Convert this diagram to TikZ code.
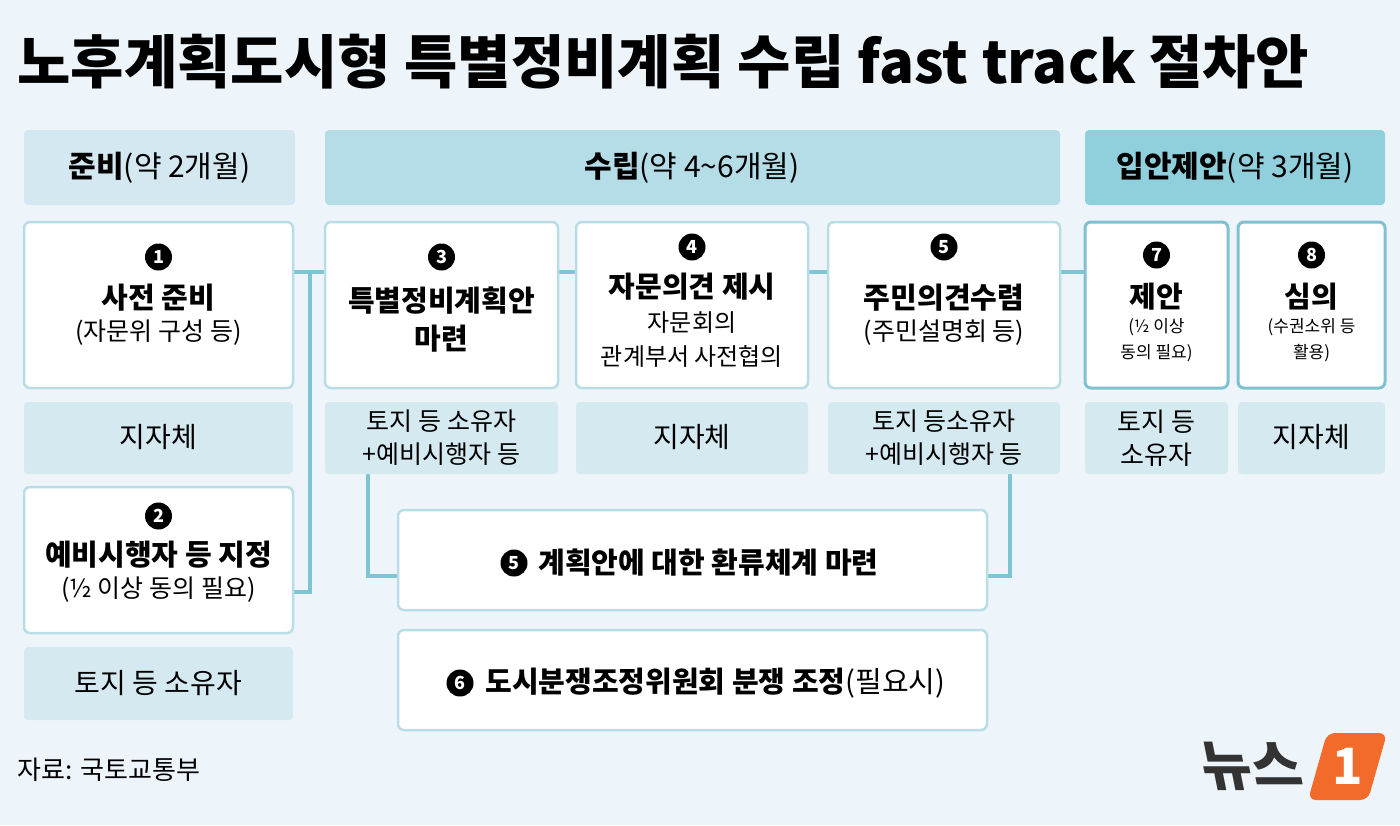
\documentclass[tikz,border=0pt]{standalone}
\usepackage{fontspec}
\setmainfont{Noto Sans CJK KR}
\definecolor{bg}{HTML}{EEF5FA}
\definecolor{hd1}{HTML}{D3E8F0}
\definecolor{hd2}{HTML}{B5DDE7}
\definecolor{hd3}{HTML}{90D0DC}
\definecolor{bd}{HTML}{B8DDE6}
\definecolor{bd2}{HTML}{7FC1D0}
\definecolor{subf}{HTML}{D5E9F0}
\definecolor{ln}{HTML}{7FC4D4}
\definecolor{org}{HTML}{F26B2A}
\begin{document}
\begin{tikzpicture}[x=1pt,y=-1pt,
  hdr/.style={rounded corners=4pt},
  wbox/.style={fill=white,draw=bd,line width=2.5pt,rounded corners=6pt},
  wbox2/.style={fill=white,draw=bd2,line width=3pt,rounded corners=6pt},
  sbox/.style={fill=subf,rounded corners=4pt},
  conn/.style={draw=ln,line width=4pt},
  num/.style={circle,fill=black,text=white,inner sep=0pt,minimum size=27pt,font=\fontsize{18}{18}\selectfont\bfseries},
  hd/.style={font=\fontsize{30}{34}\selectfont,align=center},
  big/.style={font=\fontsize{29}{38}\selectfont\bfseries,align=center},
  mid/.style={font=\fontsize{25}{34}\selectfont,align=center},
  subt/.style={font=\fontsize{28}{34}\selectfont,align=center},
  sm/.style={font=\fontsize{17}{26}\selectfont,align=center}]
\fill[bg] (0,0) rectangle (1400,825);
\useasboundingbox (0,0) rectangle (1400,825);
\node[anchor=west,font=\fontsize{58}{58}\selectfont\bfseries] (title) at (14,62) {노후계획도시형 특별정비계획 수립 fast track 절차안};
% headers
\fill[hd1,hdr] (24,130) rectangle (295,205);
\node[hd] (h1) at (159.5,168) {\textbf{준비}(약 2개월)};
\fill[hd2,hdr] (325,130) rectangle (1060,205);
\node[hd] (h2) at (692,168) {\textbf{수립}(약 4\textasciitilde6개월)};
\fill[hd3,hdr] (1085,130) rectangle (1385,205);
\node[hd] (h3) at (1235,168) {\textbf{입안제안}(약 3개월)};
% connectors
\draw[conn] (293,272) -- (310,272) -- (310,592) -- (293,592);
\draw[conn] (310,272) -- (325,272);
\draw[conn] (558,272) -- (576,272);
\draw[conn] (808,272) -- (828,272);
\draw[conn] (1060,272) -- (1085,272);
\draw[conn] (368,474) -- (368,576) -- (398,576);
\draw[conn] (1010,474) -- (1010,576) -- (987,576);
% column 1
\draw[wbox] (24,222) rectangle (293,388);
\node[num] (n1) at (158.5,257) {1};
\node[big] (t1) at (158.5,298) {사전 준비};
\node[mid] (s1) at (158.5,333) {(자문위 구성 등)};
\fill[sbox] (24,402) rectangle (293,474);
\node[subt] (a1) at (158.5,437) {지자체};
\draw[wbox] (24,487) rectangle (293,633);
\node[num] (n2) at (158.5,516) {2};
\node[big] (t2) at (158.5,555) {예비시행자 등 지정};
\node[mid] (s2) at (158.5,590) {(½ 이상 동의 필요)};
\fill[sbox] (24,647) rectangle (293,720);
\node[subt] (a2) at (158.5,683) {토지 등 소유자};
% column 3
\draw[wbox] (325,222) rectangle (558,388);
\node[num] (n3) at (441.5,257) {3};
\node[big] (t3) at (441.5,320) {특별정비계획안\\마련};
\fill[sbox] (325,402) rectangle (558,474);
\node[mid,font=\fontsize{25}{33}\selectfont] (a3) at (441.5,438) {토지 등 소유자\\+예비시행자 등};
% column 4
\draw[wbox] (576,222) rectangle (808,388);
\node[num] (n4) at (692,247) {4};
\node[big] (t4) at (692,287) {자문의견 제시};
\node[mid,font=\fontsize{24}{34}\selectfont] (s4) at (692,340) {자문회의\\관계부서 사전협의};
\fill[sbox] (576,402) rectangle (808,474);
\node[subt] (a4) at (692,437) {지자체};
% column 5
\draw[wbox] (828,222) rectangle (1060,388);
\node[num] (n5) at (944,247) {5};
\node[big] (t5) at (944,298) {주민의견수렴};
\node[mid] (s5) at (944,333) {(주민설명회 등)};
\fill[sbox] (828,402) rectangle (1060,474);
\node[mid,font=\fontsize{25}{33}\selectfont] (a5) at (944,438) {토지 등소유자\\+예비시행자 등};
% column 7
\draw[wbox2] (1085,222) rectangle (1228,388);
\node[num] (n7) at (1156.5,255) {7};
\node[big] (t7) at (1156.5,297) {제안};
\node[sm] (s7) at (1156.5,340) {(½ 이상\\동의 필요)};
\fill[sbox] (1085,402) rectangle (1228,474);
\node[mid,font=\fontsize{26}{33}\selectfont] (a7) at (1156.5,438) {토지 등\\소유자};
% column 8
\draw[wbox2] (1238,222) rectangle (1385,388);
\node[num] (n8) at (1311.5,255) {8};
\node[big] (t8) at (1311.5,297) {심의};
\node[sm] (s8) at (1311.5,340) {(수권소위 등\\활용)};
\fill[sbox] (1238,402) rectangle (1385,474);
\node[subt] (a8) at (1311.5,437) {지자체};
% wide boxes
\draw[wbox] (398,510) rectangle (987,610);
\node[num] (n5b) at (514,563) {5};
\node[big,anchor=west] (w1) at (535,563) {계획안에 대한 환류체계 마련};
\draw[wbox] (398,630) rectangle (987,730);
\node[num] (n6) at (460,683) {6};
\node[hd,anchor=west,font=\fontsize{29}{34}\selectfont] (w2) at (482,683) {\textbf{도시분쟁조정위원회 분쟁 조정}(필요시)};
% source
\node[anchor=west,font=\fontsize{26}{26}\selectfont] (src) at (14,770) {자료: 국토교통부};
% logo
\node[anchor=east,font=\fontsize{54}{54}\selectfont\bfseries,text=black!80,xslant=-0.2] (logo) at (1305,766) {뉴스};
\fill[org,rounded corners=8pt] (1327,733) -- (1387,733) -- (1368,800) -- (1308,800) -- cycle;
\node[font=\fontsize{50}{50}\selectfont\bfseries\itshape,text=white] (one) at (1348,766) {1};
\end{tikzpicture}
\end{document}
